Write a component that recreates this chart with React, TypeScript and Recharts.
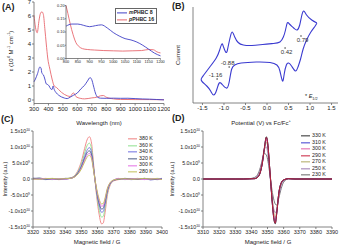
import React from 'react';
import { LineChart, Line, XAxis, YAxis, ReferenceDot } from 'recharts';

const FONT = '"Liberation Sans", Arial, sans-serif';
const AXIS = '#666';
const TEXT = '#222';

// (A) absorption, main panel
const mWavelength = [300, 310, 325, 340, 348, 355, 365, 375, 385, 395, 405, 415, 425, 432, 440, 455, 470, 490, 510, 530, 550, 575, 600, 625, 650, 670, 688, 700, 712, 725, 740, 760, 800, 850, 900, 950, 1000, 1050, 1100, 1150, 1200];
const mEpsilon = [1.3, 1.5, 1.9, 2.35, 2.3, 1.9, 1.8, 1.5, 1.15, 1.1, 1.0, 0.8, 0.75, 1.0, 0.75, 0.5, 0.35, 0.22, 0.14, 0.1, 0.2, 0.35, 0.5, 0.8, 1.05, 1.35, 1.6, 1.45, 1.0, 0.5, 0.2, 0.13, 0.12, 0.13, 0.12, 0.125, 0.1, 0.075, 0.06, 0.035, 0.01];
const pWavelength = [300, 310, 322, 335, 345, 355, 365, 375, 385, 395, 410, 425, 440, 455, 470, 490, 510, 530, 552, 565, 575, 590, 620, 650, 700, 735, 760, 780, 800, 850, 900, 1000, 1100, 1200];
const pEpsilon = [6.05, 5.2, 4.8, 5.7, 6.2, 6.3, 6.1, 5.1, 4.0, 3.0, 2.2, 1.5, 1.0, 0.9, 0.75, 0.55, 0.4, 0.3, 0.25, 0.45, 0.5, 0.25, 0.12, 0.08, 0.15, 0.2, 0.3, 0.32, 0.2, 0.08, 0.04, 0.03, 0.03, 0.02];
const uvTicks = [300, 400, 500, 600, 700, 800, 900, 1000, 1100, 1200];
const epsTicks = [0, 1, 2, 3, 4, 5, 6, 7];

// (A) inset, NIR zoom
const nirMWavelength = [800, 825, 850, 875, 900, 925, 950, 975, 1000, 1025, 1050, 1075, 1100, 1125, 1150, 1175, 1200];
const nirMEpsilon = [0.122, 0.13, 0.13, 0.125, 0.12, 0.124, 0.127, 0.115, 0.098, 0.085, 0.075, 0.07, 0.062, 0.05, 0.035, 0.02, 0.01];
const nirPWavelength = [800, 808, 818, 830, 842, 855, 870, 890, 920, 960, 1000, 1040, 1080, 1120, 1150, 1170, 1185, 1200];
const nirPEpsilon = [0.2, 0.17, 0.13, 0.09, 0.06, 0.045, 0.037, 0.034, 0.032, 0.03, 0.029, 0.028, 0.029, 0.03, 0.034, 0.033, 0.025, 0.021];
const nirXTicks = [800, 850, 900, 950, 1000, 1050, 1100, 1150, 1200];
const nirYTicks = [0, 0.05, 0.1, 0.15, 0.2];

// (B) cyclic voltammogram, traced as a closed loop
const cvPotential = [1.16, 1.04, 0.92, 0.85, 0.8, 0.76, 0.7, 0.62, 0.52, 0.47, 0.43, 0.38, 0.3, 0.15, -0.1, -0.35, -0.55, -0.67, -0.75, -0.81, -0.86, -0.91, -0.95, -1.01, -1.05, -1.1, -1.18, -1.33, -1.47, -1.53, -1.5, -1.4, -1.31, -1.24, -1.17, -1.11, -1.03, -0.93, -0.87, -0.82, -0.75, -0.6, -0.25, 0.07, 0.23, 0.3, 0.36, 0.4, 0.45, 0.5, 0.57, 0.66, 0.72, 0.78, 0.84, 0.92, 1.02, 1.12, 1.16];
const cvCurrent = [32, 35, 40, 44, 38, 30, 25, 27, 31, 32, 25, 18, 13, 11.5, 10.5, 9.5, 10, 12.5, 18, 23, 17, 7, 2.5, 8, 11, 5, -3, -12, -20, -24, -27, -31, -36, -40, -35, -28, -30, -33, -25, -14, -10, -8, -7, -7.5, -10, -16, -26, -19, -10, -8, -11, -16, -12, -4, 6, 15, 23, 29, 32];
const halfWaveE = [0.79, 0.42, -0.88, -1.16];
const halfWaveI = [19, 7, -12, -24];
const halfWaveLabels = ['0.79', '0.42', '-0.88', '-1.16'];
const potentialTicks = [-1.5, -1, -0.5, 0, 0.5, 1, 1.5];

// (C) EPR, high temperature set (intensity in 1e10)
const fieldC = [3320, 3324, 3328, 3332, 3336, 3340, 3343, 3346, 3348, 3350, 3352, 3353.5, 3355, 3356.3, 3357.3, 3358.3, 3359.5, 3361, 3362.5, 3363.5, 3364.7, 3366, 3368, 3370, 3373, 3377, 3381, 3385, 3389, 3393, 3397, 3400];
const tempsC = ['380 K', '360 K', '340 K', '320 K', '300 K', '280 K'];
const epr380 = [0.02, 0.01, -0.01, 0, -0.02, 0, 0.03, 0.12, 0.28, 0.55, 0.95, 1.22, 1.32, 1.12, 0.62, 0.05, -0.55, -1.1, -1.4, -1.38, -1.05, -0.55, -0.18, -0.06, -0.02, 0, 0.01, -0.01, 0, -0.02, 0.01, 0];
const epr360 = [0, 0.02, 0, -0.02, 0.01, 0.01, 0.03, 0.1, 0.24, 0.47, 0.81, 1.04, 1.12, 0.95, 0.53, 0.04, -0.47, -0.94, -1.19, -1.17, -0.89, -0.47, -0.15, -0.05, 0, -0.02, 0, 0.02, -0.01, 0, 0.02, 0.01];
const epr340 = [0.03, 0, -0.02, 0.01, 0, -0.01, 0.02, 0.09, 0.21, 0.41, 0.7, 0.9, 0.98, 0.83, 0.46, 0.04, -0.41, -0.81, -1.04, -1.02, -0.78, -0.41, -0.13, -0.04, 0.01, 0, -0.02, 0, 0.01, -0.03, 0, 0.02];
const epr320 = [0.01, 0.03, 0, 0, -0.01, 0.02, 0.02, 0.08, 0.19, 0.37, 0.64, 0.82, 0.88, 0.75, 0.42, 0.03, -0.37, -0.74, -0.94, -0.92, -0.7, -0.37, -0.12, -0.04, -0.01, 0.02, 0, -0.01, 0.02, 0, -0.02, 0];
const epr300 = [-0.01, 0, 0.02, -0.01, 0.01, 0, 0.02, 0.07, 0.17, 0.34, 0.58, 0.74, 0.8, 0.68, 0.38, 0.03, -0.34, -0.67, -0.85, -0.84, -0.64, -0.34, -0.11, -0.04, 0.02, -0.01, 0, 0.01, -0.02, 0.01, 0, -0.01];
const epr280 = [0, -0.01, 0.01, 0.02, 0, 0.01, 0.02, 0.07, 0.16, 0.31, 0.53, 0.68, 0.74, 0.63, 0.35, 0.03, -0.31, -0.62, -0.78, -0.77, -0.59, -0.31, -0.1, -0.03, 0, 0.01, -0.01, 0, 0.02, 0, 0.01, -0.02];
const fieldTicksC = [3320, 3330, 3340, 3350, 3360, 3370, 3380, 3390, 3400];

// (D) EPR, low temperature set (intensity in 1e10)
const fieldD = [3310, 3315, 3320, 3325, 3330, 3335, 3339, 3342, 3344, 3345.5, 3346.8, 3348, 3349.3, 3350.3, 3351.2, 3352, 3352.8, 3353.8, 3354.8, 3355.8, 3357, 3358.5, 3360, 3363, 3367, 3372, 3377, 3382, 3386, 3390];
const tempsD = ['330 K', '310 K', '300 K', '290 K', '270 K', '250 K', '230 K'];
const epr330 = [0, 0, 0, 0, 0, 0, 0.005, 0.01, 0.06, 0.2, 0.5, 0.95, 1.32, 1.05, 0.45, -0.1, -0.65, -1.2, -1.4, -1.05, -0.45, -0.12, -0.03, 0.01, 0, 0, 0, 0, 0, 0];
const epr310 = [0, 0, 0, 0, 0, 0, 0.005, 0.01, 0.06, 0.2, 0.49, 0.93, 1.3, 1.03, 0.44, -0.1, -0.64, -1.18, -1.38, -1.03, -0.44, -0.12, -0.03, 0.01, 0, 0, 0, 0, 0, 0];
const eprD300 = [0, 0, 0, 0, 0, 0, 0.005, 0.01, 0.07, 0.21, 0.5, 0.92, 1.22, 1.0, 0.45, -0.08, -0.6, -1.1, -1.3, -1.0, -0.45, -0.13, -0.03, 0.01, 0, 0, 0, 0, 0, 0];
const epr290 = [0, 0, 0, 0, 0, 0, 0.005, 0.01, 0.06, 0.2, 0.5, 0.94, 1.3, 1.04, 0.45, -0.1, -0.64, -1.18, -1.38, -1.04, -0.45, -0.12, -0.03, 0.01, 0, 0, 0, 0, 0, 0];
const epr270 = [0, 0, 0, 0, 0, 0, 0.005, 0.02, 0.08, 0.23, 0.5, 0.88, 1.15, 0.95, 0.45, -0.05, -0.55, -1.0, -1.2, -0.95, -0.45, -0.14, -0.04, 0.01, 0, 0, 0, 0, 0, 0];
const epr250 = [0, 0, 0, 0, 0, 0, 0.01, 0.04, 0.12, 0.3, 0.6, 0.92, 1.0, 0.75, 0.3, -0.15, -0.58, -0.92, -1.05, -0.95, -0.55, -0.2, -0.06, 0.01, 0, 0, 0, 0, 0, 0];
const epr230 = [0, 0, 0, 0, 0, 0, 0.01, 0.05, 0.15, 0.35, 0.6, 0.8, 0.75, 0.55, 0.25, -0.05, -0.35, -0.62, -0.78, -0.82, -0.6, -0.3, -0.1, 0.01, 0, 0, 0, 0, 0, 0];
const fieldTicksD = [3310, 3320, 3330, 3340, 3350, 3360, 3370, 3380, 3390];

const intensityTicks = [-1.5, -1, -0.5, 0, 0.5, 1, 1.5];
const intensityLabels = [['-1.5x10', '10'], ['-1.0x10', '10'], ['-5.0x10', '9'], ['0.0', ''], ['5.0x10', '9'], ['1.0x10', '10'], ['1.5x10', '10']];

const colorsC = ['#ef7f7f', '#8ee08e', '#6f6fe0', '#4a5a86', '#e46ee4', '#c2c25a'];
const colorsD = ['#2a2a2a', '#3c3cd0', '#e060a8', '#c8203c', '#b0aa62', '#9a78b0', '#686868'];

const pairs = (xs: number[], ys: number[]) => xs.map((x, i) => ({ x, y: ys[i] }));

const cvData = cvPotential.map((e, i) => ({ e, i: cvCurrent[i] }));
const seriesC = [epr380, epr360, epr340, epr320, epr300, epr280];
const dataC = fieldC.map((f, i) => {
  const row: Record<string, number> = { f };
  seriesC.forEach((s, k) => (row['s' + k] = s[i]));
  return row;
});
const seriesD = [epr330, epr310, eprD300, epr290, epr270, epr250, epr230];
const dataD = fieldD.map((f, i) => {
  const row: Record<string, number> = { f };
  seriesD.forEach((s, k) => (row['s' + k] = s[i]));
  return row;
});
// draw order for (D): crimson trace ends up on top
const drawOrderD = [6, 5, 4, 2, 1, 0, 3];

const axisLine = { stroke: AXIS, strokeWidth: 0.8 };

// top / right axes only close the box around each plot
const frameAxes = (xd: [number, number], yd: [number, number]) => [
  <XAxis key="ft" xAxisId="top" orientation="top" type="number" domain={xd} height={0} tick={false} tickLine={false} axisLine={axisLine} />,
  <YAxis key="fr" yAxisId="right" orientation="right" type="number" domain={yd} width={0} tick={false} tickLine={false} axisLine={axisLine} />,
];

const SciTick = (props: any) => {
  const { x, y, payload } = props;
  const idx = intensityTicks.indexOf(payload.value);
  const [m, e] = intensityLabels[idx] || [String(payload.value), ''];
  return (
    <text x={x} y={y} dy={2} textAnchor="end" fontSize={5.3} fill={TEXT} fontFamily={FONT}>
      {m}
      {e ? <tspan dy={-2.2} fontSize={3.4}>{e}</tspan> : null}
    </text>
  );
};

type TxtProps = { x: number; y: number; size?: number; rotate?: boolean; bold?: boolean; left?: boolean; children: React.ReactNode };
const Txt = ({ x, y, size = 6, rotate, bold, left, children }: TxtProps) => (
  <div
    style={{
      position: 'absolute',
      left: x,
      top: y,
      fontSize: size,
      fontWeight: bold ? 'bold' : 'normal',
      lineHeight: 1,
      whiteSpace: 'nowrap',
      color: TEXT,
      transform: left ? 'translate(0,-50%)' : rotate ? 'translate(-50%,-50%) rotate(-90deg)' : 'translate(-50%,-50%)',
    }}
  >
    {children}
  </div>
);

const SeriesKey = ({ x, y, step, labels, colors }: { x: number; y: number; step: number; labels: string[]; colors: string[] }) => (
  <>
    {labels.map((l, i) => (
      <div
        key={l}
        style={{ position: 'absolute', left: x, top: y + i * step, transform: 'translateY(-50%)', display: 'flex', alignItems: 'center', fontSize: 5.3, lineHeight: 1, color: TEXT, whiteSpace: 'nowrap' }}
      >
        <span style={{ display: 'inline-block', width: 9, borderTop: `1px solid ${colors[i]}`, marginRight: 2 }} />
        {l}
      </div>
    ))}
  </>
);

const tickStyle = { fontSize: 6, fill: TEXT, fontFamily: FONT };
const insetKeyRow = { position: 'absolute' as const, left: 117, transform: 'translateY(-50%)', display: 'flex', alignItems: 'center', fontSize: 5.2, fontWeight: 'bold' as const, lineHeight: 1, color: TEXT, whiteSpace: 'nowrap' as const };

export default function App() {
  return (
    <div style={{ position: 'absolute', left: 0, top: 0, width: 339, height: 247, background: '#fff', overflow: 'hidden', fontFamily: FONT }}>
      {/* (A) */}
      <div style={{ position: 'absolute', left: 0, top: 0 }}>
        <LineChart width={170} height={122} margin={{ top: 2, right: 6, bottom: 0, left: 0 }}>
          <XAxis dataKey="x" type="number" domain={[300, 1200]} ticks={uvTicks} interval={0} height={18.5} tick={tickStyle} tickSize={2} tickMargin={1} axisLine={axisLine} tickLine={axisLine} />
          <YAxis type="number" domain={[-0.25, 7]} ticks={epsTicks} interval={0} width={34} tick={tickStyle} tickSize={2} tickMargin={1} axisLine={axisLine} tickLine={axisLine} />
          {frameAxes([300, 1200], [-0.25, 7])}
          <Line data={pairs(pWavelength, pEpsilon)} dataKey="y" type="monotone" stroke="#e8686e" strokeWidth={0.9} dot={false} isAnimationActive={false} />
          <Line data={pairs(mWavelength, mEpsilon)} dataKey="y" type="monotone" stroke="#4141c6" strokeWidth={0.9} dot={false} isAnimationActive={false} />
        </LineChart>
      </div>
      <div style={{ position: 'absolute', left: 55, top: 0 }}>
        <LineChart width={110} height={66} margin={{ top: 5.5, right: 4.5, bottom: 0, left: 0 }}>
          <XAxis dataKey="x" type="number" domain={[800, 1200]} ticks={nirXTicks} interval={0} height={7.5} tick={{ fontSize: 3.8, fill: TEXT }} tickSize={1.2} tickMargin={0.3} axisLine={axisLine} tickLine={axisLine} />
          <YAxis type="number" domain={[0, 0.2]} ticks={nirYTicks} interval={0} width={11} tick={{ fontSize: 3.8, fill: TEXT }} tickSize={1.2} tickMargin={0.3} tickFormatter={(v: number) => v.toFixed(2)} axisLine={axisLine} tickLine={axisLine} />
          {frameAxes([800, 1200], [0, 0.2])}
          <Line data={pairs(nirPWavelength, nirPEpsilon)} dataKey="y" type="monotone" stroke="#e8686e" strokeWidth={0.9} dot={false} isAnimationActive={false} />
          <Line data={pairs(nirMWavelength, nirMEpsilon)} dataKey="y" type="monotone" stroke="#4141c6" strokeWidth={0.9} dot={false} isAnimationActive={false} />
        </LineChart>
      </div>
      <div style={{ position: 'absolute', left: 115, top: 8, width: 42, height: 16, border: `0.8px solid ${AXIS}`, background: '#fff', boxSizing: 'border-box' }} />
      <div style={{ ...insetKeyRow, top: 13 }}>
        <span style={{ display: 'inline-block', width: 10, borderTop: '1px solid #4141c6', marginRight: 2 }} />
        <i>m</i>PHBC 8
      </div>
      <div style={{ ...insetKeyRow, top: 20 }}>
        <span style={{ display: 'inline-block', width: 10, borderTop: '1px solid #e8686e', marginRight: 2 }} />
        <i>p</i>PHBC 16
      </div>
      <Txt x={2} y={6.5} size={9} bold left>(A)</Txt>
      <Txt x={10} y={51} rotate>
        ε (10<sup style={{ fontSize: 4 }}>4</sup> M<sup style={{ fontSize: 4 }}>-1</sup> cm<sup style={{ fontSize: 4 }}>-1</sup>)
      </Txt>
      <Txt x={99} y={123}>Wavelength (nm)</Txt>

      {/* (B) */}
      <div style={{ position: 'absolute', left: 170, top: 0 }}>
        <LineChart width={169} height={122} data={cvData} margin={{ top: 7, right: 1, bottom: 0, left: 0 }}>
          <XAxis dataKey="e" type="number" domain={[-1.72, 1.65]} ticks={potentialTicks} interval={0} height={19} tick={tickStyle} tickSize={2} tickMargin={1} tickFormatter={(v: number) => v.toFixed(1)} axisLine={axisLine} tickLine={axisLine} />
          <YAxis type="number" domain={[-48, 48]} width={23} tick={false} tickLine={false} axisLine={axisLine} />
          {frameAxes([-1.72, 1.65], [-48, 48])}
          <Line dataKey="i" type="natural" stroke="#3a3ad0" strokeWidth={1.1} dot={false} isAnimationActive={false} />
          {halfWaveE.map((e, k) => (
            <ReferenceDot
              key={k}
              x={e}
              y={halfWaveI[k]}
              r={0.7}
              fill="#222"
              stroke="none"
              label={{ value: halfWaveLabels[k], position: k < 2 ? 'bottom' : 'top', offset: 1.5, fontSize: 6, fill: '#333', dx: k < 2 ? 1.5 : -1.5 }}
            />
          ))}
        </LineChart>
      </div>
      <Txt x={172} y={6} size={9} bold left>(B)</Txt>
      <Txt x={178} y={55} rotate>Current</Txt>
      <Txt x={261} y={122}>
        Potential (V) vs Fc/Fc<sup style={{ fontSize: 4 }}>+</sup>
      </Txt>
      <Txt x={305} y={98} size={5.5} left>
        * <i>E</i>
        <sub style={{ fontSize: 3.8 }}>1/2</sub>
      </Txt>

      {/* (C) */}
      <div style={{ position: 'absolute', left: 0, top: 122, width: 168, height: 125, overflow: 'hidden' }}>
        <LineChart width={175} height={125} data={dataC} margin={{ top: 9, right: 13, bottom: 0, left: 0 }}>
          <XAxis dataKey="f" type="number" domain={[3320, 3400]} ticks={fieldTicksC} interval={0} height={20} tick={{ ...tickStyle, fontSize: 5.5 }} tickSize={2} tickMargin={1} axisLine={axisLine} tickLine={axisLine} />
          <YAxis type="number" domain={[-1.5, 1.5]} ticks={intensityTicks} interval={0} width={33} tick={<SciTick />} tickSize={2} tickMargin={1} axisLine={axisLine} tickLine={axisLine} />
          {frameAxes([3320, 3400], [-1.5, 1.5])}
          {colorsC.map((c, k) => (
            <Line key={k} dataKey={'s' + k} type="monotone" stroke={c} strokeWidth={0.9} dot={false} isAnimationActive={false} />
          ))}
        </LineChart>
        <Txt x={6} y={57} rotate size={5.5}>Intensity (a.u.)</Txt>
      </div>
      <SeriesKey x={128} y={139} step={6.6} labels={tempsC} colors={colorsC} />
      <Txt x={1} y={118.5} size={9} bold left>(C)</Txt>
      <Txt x={97} y={242}>Magnetic field / G</Txt>

      {/* (D) */}
      <div style={{ position: 'absolute', left: 170, top: 122, width: 169, height: 125, overflow: 'hidden' }}>
        <LineChart width={169} height={125} data={dataD} margin={{ top: 9, right: 7, bottom: 0, left: 0 }}>
          <XAxis dataKey="f" type="number" domain={[3310, 3390]} ticks={fieldTicksD} interval={0} height={20} tick={{ ...tickStyle, fontSize: 5.5 }} tickSize={2} tickMargin={1} axisLine={axisLine} tickLine={axisLine} />
          <YAxis type="number" domain={[-1.5, 1.5]} ticks={intensityTicks} interval={0} width={33} tick={<SciTick />} tickSize={2} tickMargin={1} axisLine={axisLine} tickLine={axisLine} />
          {frameAxes([3310, 3390], [-1.5, 1.5])}
          {drawOrderD.map((k) => (
            <Line key={k} dataKey={'s' + k} type="monotone" stroke={colorsD[k]} strokeWidth={0.9} dot={false} isAnimationActive={false} />
          ))}
        </LineChart>
        <Txt x={3} y={57} rotate size={5.5}>Intensity (a.u.)</Txt>
      </div>
      <SeriesKey x={301} y={136} step={6.5} labels={tempsD} colors={colorsD} />
      <Txt x={172} y={118} size={9} bold left>(D)</Txt>
      <Txt x={268} y={242}>Magnetic field / G</Txt>
    </div>
  );
}
